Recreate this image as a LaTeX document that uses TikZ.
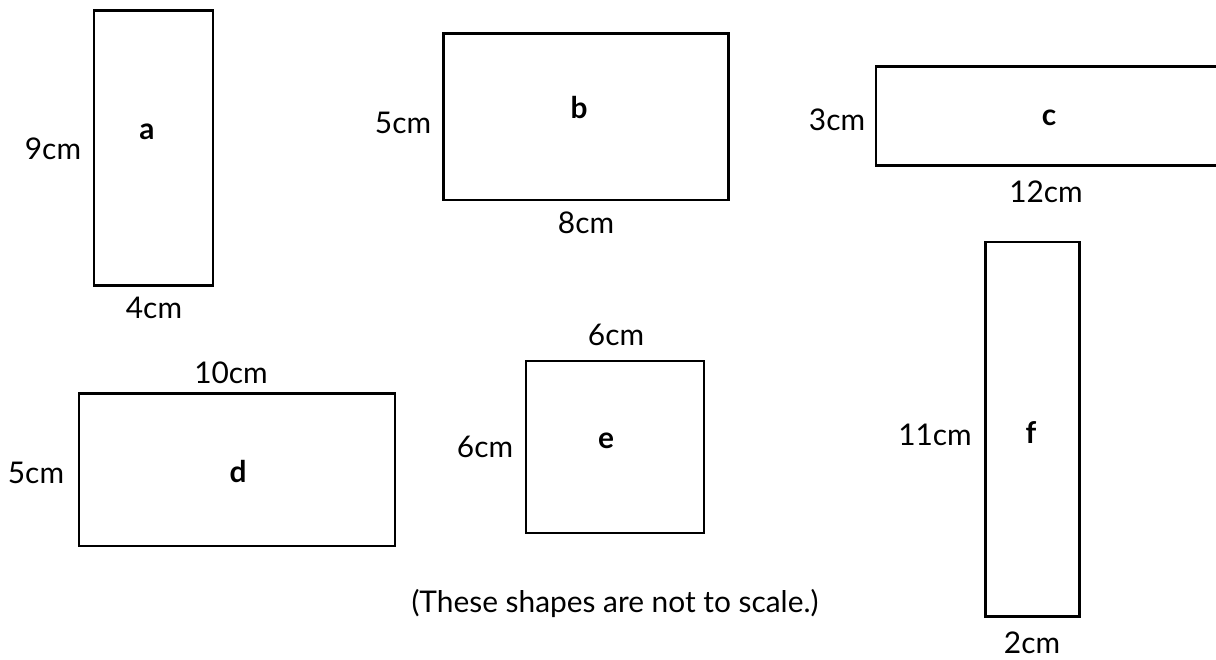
\documentclass[tikz,border=0pt]{standalone}
\usepackage{fontspec}
\setmainfont{Lato}
\usepackage{tikz}
\usetikzlibrary{positioning}

\begin{document}
\begin{tikzpicture}[
  x=0.02cm, y=-0.02cm,
  rectbox/.style={draw, line width=1.4pt, inner sep=0pt, outer sep=0pt},
  dim/.style={anchor=base, inner sep=0pt, font=\fontsize{17}{20}\selectfont},
  letter/.style={anchor=base, inner sep=0pt, font=\fontsize{17}{20}\selectfont\bfseries}
]
  \useasboundingbox (0,0) rectangle (1216,659);

  % Shapes
  \node[rectbox, minimum width=2.38cm, minimum height=5.50cm] (a) at (153.5,148.2) {};
  \node[rectbox, minimum width=5.70cm, minimum height=3.33cm] (b) at (586,116.7) {};
  \node[rectbox, minimum width=7.28cm, minimum height=1.98cm] (c) at (1058,116.2) {};
  \node[rectbox, minimum width=6.32cm, minimum height=3.05cm] (d) at (237,469.7) {};
  \node[rectbox, minimum width=3.57cm, minimum height=3.44cm] (e) at (615,447) {};
  \node[rectbox, minimum width=1.88cm, minimum height=7.50cm] (f) at (1032.3,429.2) {};

  % Letters
  \node[letter] (a-name) at (147,139) {a};
  \node[letter] (b-name) at (579,118) {b};
  \node[letter] (c-name) at (1049,125) {c};
  \node[letter] (d-name) at (238,482) {d};
  \node[letter] (e-name) at (606,448) {e};
  \node[letter] (f-name) at (1031,443) {f};

  % Lengths
  \node[dim] (a-h) at (53,159) {9cm};
  \node[dim] (a-w) at (154,318) {4cm};
  \node[dim] (b-h) at (403,133) {5cm};
  \node[dim] (b-w) at (586,233) {8cm};
  \node[dim] (c-h) at (837,130) {3cm};
  \node[dim] (c-w) at (1046,202) {12cm};
  \node[dim] (d-w) at (231,383) {10cm};
  \node[dim] (d-h) at (36,483) {5cm};
  \node[dim] (e-w) at (616,345) {6cm};
  \node[dim] (e-h) at (485,457) {6cm};
  \node[dim] (f-h) at (935,445) {11cm};
  \node[dim] (f-w) at (1032,653) {2cm};

  % Note
  \node[dim] (note) at (615,612) {(These shapes are not to scale.)};
\end{tikzpicture}
\end{document}
